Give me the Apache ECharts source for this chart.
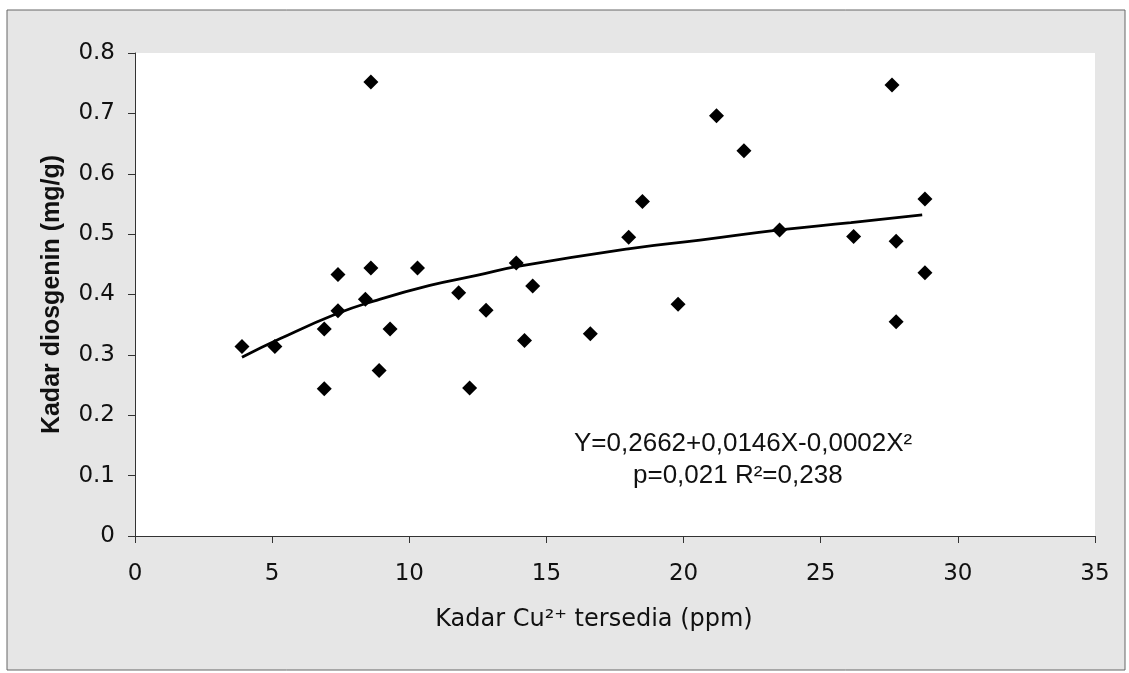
<!DOCTYPE html>
<html>
<head>
<meta charset="utf-8">
<script src="https://cdn.jsdelivr.net/npm/echarts/dist/echarts.min.js"></script>
<style>
html,body{margin:0;padding:0;background:#fff;}
#chart{width:1129px;height:673px;}
</style>
</head>
<body>
<div id="chart"></div>
<script>
// Scatter observations: Cu2+ available (ppm) vs diosgenin content (mg/g)
var cuValues = [3.9, 5.1, 6.9, 6.9, 7.4, 7.4, 8.4, 8.6, 8.6, 8.9, 9.3, 10.3, 11.8, 12.2, 12.8, 13.9, 14.2, 14.5, 16.6, 18.0, 18.5, 19.8, 21.2, 22.2, 23.5, 26.2, 27.6, 27.75, 27.75, 28.8, 28.8];
var diosgeninValues = [0.314, 0.314, 0.343, 0.244, 0.373, 0.433, 0.392, 0.444, 0.752, 0.274, 0.343, 0.444, 0.403, 0.245, 0.374, 0.452, 0.324, 0.414, 0.335, 0.495, 0.554, 0.384, 0.696, 0.638, 0.507, 0.496, 0.747, 0.488, 0.355, 0.558, 0.436];

// Trend curve
var trendX = [3.9, 5.3, 7.35, 8.7, 10.75, 12.5, 13.9, 18.05, 20.6, 23.5, 26.1, 28.7];
var trendY = [0.296, 0.327, 0.368, 0.389, 0.415, 0.432, 0.446, 0.476, 0.490, 0.507, 0.519, 0.532];

var equationLine1 = 'Y=0,2662+0,0146X-0,0002X\u00B2';
var equationLine2 = 'p=0,021 R\u00B2=0,238';
var xTitle = 'Kadar Cu\u00B2\u207A tersedia (ppm)';
var yTitle = 'Kadar diosgenin (mg/g)';

var scatterData = cuValues.map(function (x, i) { return [x, diosgeninValues[i]]; });
var trendData = trendX.map(function (x, i) { return [x, trendY[i]]; });

var chart = echarts.init(document.getElementById('chart'), null, {renderer: 'canvas'});
chart.setOption({
  backgroundColor: '#ffffff',
  animation: false,
  graphic: [
    {
      type: 'rect', z: -10, silent: true,
      shape: {x: 7, y: 10, width: 1118, height: 660},
      style: {fill: '#e6e6e6', stroke: '#666', lineWidth: 1}
    },
    {
      type: 'text', left: 574, top: 431, z: 10,
      style: {text: equationLine1, font: '26px "Liberation Sans", Arial, sans-serif', fill: '#111'}
    },
    {
      type: 'text', left: 633, top: 463, z: 10,
      style: {text: equationLine2, font: '26px "Liberation Sans", Arial, sans-serif', fill: '#111'}
    }
  ],
  grid: {
    left: 135, right: 34, top: 53, bottom: 137,
    show: true, backgroundColor: '#ffffff', borderWidth: 0
  },
  xAxis: {
    type: 'value', min: 0, max: 35, interval: 5,
    name: xTitle, nameLocation: 'middle', nameGap: 72,
    nameTextStyle: {fontFamily: 'DejaVu Sans', fontSize: 24, color: '#111', padding: [0, 42, 0, 0]},
    axisLine: {show: true, onZero: false, lineStyle: {color: '#333', width: 1}},
    axisTick: {show: true, length: 7, lineStyle: {color: '#333'}},
    axisLabel: {fontFamily: 'DejaVu Sans', fontSize: 23, color: '#111', margin: 27},
    splitLine: {show: false}
  },
  yAxis: {
    type: 'value', min: 0, max: 0.8, interval: 0.1,
    name: yTitle, nameLocation: 'middle', nameGap: 70, nameRotate: 90,
    nameTextStyle: {fontFamily: '"Liberation Sans", Arial, sans-serif', fontWeight: 'bold', fontSize: 25, color: '#111'},
    axisLine: {show: true, lineStyle: {color: '#333', width: 1}},
    axisTick: {show: true, length: 7, lineStyle: {color: '#333'}},
    axisLabel: {fontFamily: 'DejaVu Sans', fontSize: 23, color: '#111', margin: 20},
    splitLine: {show: false}
  },
  series: [
    {
      type: 'line', data: trendData, smooth: 0.5, showSymbol: false, symbol: 'none',
      lineStyle: {color: '#000', width: 2.8}, z: 2
    },
    {
      type: 'scatter', data: scatterData, symbol: 'diamond', symbolSize: 15,
      itemStyle: {color: '#000', opacity: 1}, z: 3
    }
  ]
});
</script>
</body>
</html>
